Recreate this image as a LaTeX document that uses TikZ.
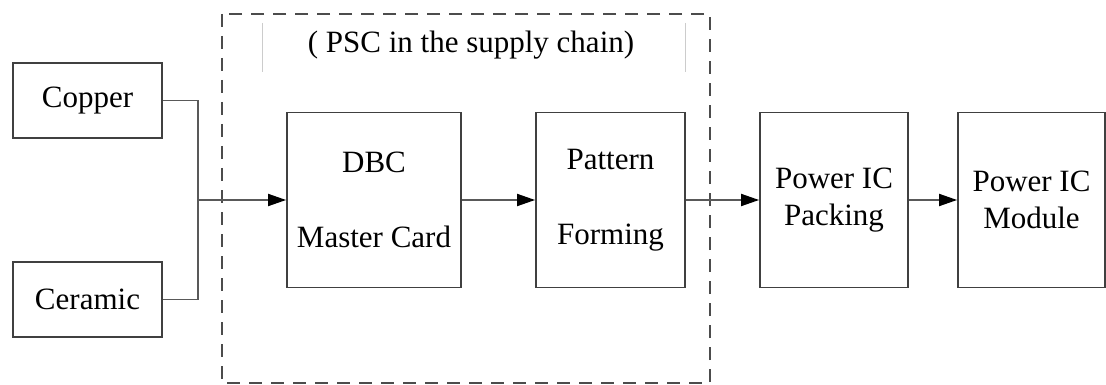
\documentclass[tikz,border=0pt]{standalone}
\usepackage{fontspec}
\setmainfont{Liberation Serif}
\usetikzlibrary{arrows.meta}
\begin{document}
\begin{tikzpicture}[x=1pt,y=-1pt,
  every node/.style={font=\fontsize{31}{37}\selectfont},
  blk/.style={draw=black!75,line width=1.8pt,align=center,inner sep=0pt},
  link/.style={draw=black!65,line width=1.8pt},
  flow/.style={link,-{Triangle[length=18pt,width=12pt,color=black]}},
  frame/.style={draw=black!70,line width=1.8pt,dash pattern=on 13pt off 9pt},
  tick/.style={draw=black!20,line width=0.8pt}]
\useasboundingbox (0,0) rectangle (1106,385);

% raw materials
\node[blk,minimum width=149pt,minimum height=75pt] (copper)  at (87.5,100.5) {Copper};
\node[blk,minimum width=149pt,minimum height=75pt] (ceramic) at (87.5,299.5) {Ceramic};

% process chain
\node[blk,minimum width=174pt,minimum height=175pt] (dbc)     at (374,200)    {DBC\\[38pt]Master Card};
\node[blk,minimum width=149pt,minimum height=175pt] (pattern) at (610.5,200)  {Pattern\\[38pt]Forming};
\node[blk,minimum width=148pt,minimum height=175pt] (packing) at (834,200)    {Power IC\\Packing};
\node[blk,minimum width=147pt,minimum height=175pt] (module)  at (1031.5,200) {Power IC\\Module};

% PSC boundary
\draw[frame] (222,14) rectangle (710,383);
\node (psc) at (471,45) {( PSC in the supply chain)};
\draw[tick] (262,23) -- (262,72);
\draw[tick] (685,23) -- (685,72);

% connectors
\coordinate (join) at (198,200);
\draw[link] (copper.east) -| (join);
\draw[link] (ceramic.east) -| (join);
\draw[flow] (join) -- (dbc.west);
\draw[flow] (dbc.east) -- (pattern.west);
\draw[flow] (pattern.east) -- (packing.west);
\draw[flow] (packing.east) -- (module.west);
\end{tikzpicture}
\end{document}
